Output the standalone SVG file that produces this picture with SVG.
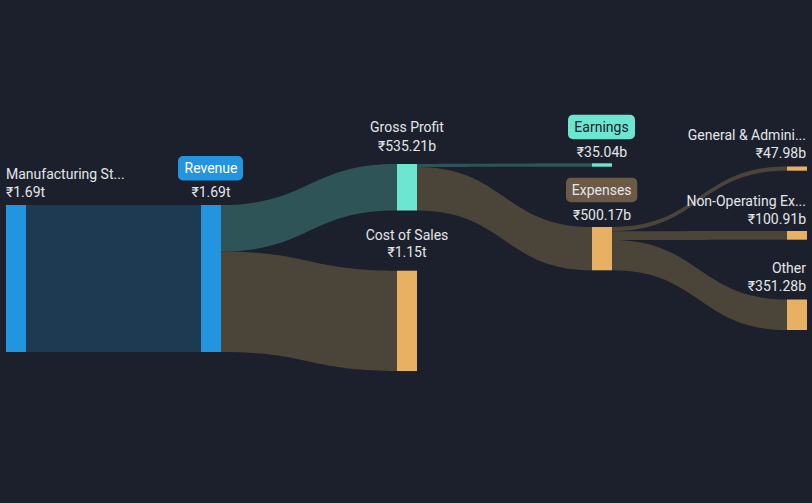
<svg xmlns="http://www.w3.org/2000/svg" width="812" height="503" viewBox="0 0 812 503">
<style>
.t{font-family:Roboto,"Liberation Sans",sans-serif;font-size:14px;fill:#e4e6ea}
.m{text-anchor:middle}
.e{text-anchor:end}
.blue{fill:#2394df}
.teal{fill:#6de6d1}
.gold{fill:#e8b062}
.lb{fill:#1e3a52}
.lt{fill:#2e5457}
.lr{fill:#4a4439}
</style>
<rect width="812" height="503" fill="#1b202c"/>
<g id="connectors">
<path class="lb" d="M26,205 L201,205 L201,352 L26,352 Z"/>
<path class="lt" d="M221,205 C309,205 309,164 397,164 L397,210.5 C309,210.5 309,251.5 221,251.5 Z"/>
<path class="lr" d="M221,251.5 C309,251.5 309,270.7 397,270.7 L397,371 C309,371 309,352 221,352 Z"/>
<path class="lt" d="M417,164 C504.5,164 504.5,163.3 592,163.3 L592,166.7 C504.5,166.7 504.5,167 417,167 Z"/>
<path class="lr" d="M417,167 C504.5,167 504.5,227 592,227 L592,270.3 C504.5,270.3 504.5,210.5 417,210.5 Z"/>
<path class="lr" d="M612,227 C699.5,227 699.5,166.5 787,166.5 L787,170.7 C699.5,170.7 699.5,231.2 612,231.2 Z"/>
<path class="lr" d="M612,231.2 C699.5,231.2 699.5,231 787,231 L787,239.7 C699.5,239.7 699.5,240 612,240 Z"/>
<path class="lr" d="M612,240 C699.5,240 699.5,299.5 787,299.5 L787,330 C699.5,330 699.5,270.3 612,270.3 Z"/>
</g>
<g id="manufacturing">
<rect class="blue" x="6" y="205" width="20" height="147"/>
<text class="t" x="6" y="179">Manufacturing St...</text>
<text class="t" x="6" y="197">₹1.69t</text>
</g>
<g id="revenue">
<rect class="blue" x="201" y="205" width="20" height="147"/>
<rect class="blue" x="178" y="156" width="65" height="24.5" rx="5"/>
<text class="t m" x="211" y="172.5" style="fill:#ffffff">Revenue</text>
<text class="t m" x="211" y="197">₹1.69t</text>
</g>
<g id="gross-profit">
<rect class="teal" x="397" y="164" width="20" height="46.5"/>
<text class="t m" x="407" y="132">Gross Profit</text>
<text class="t m" x="407" y="151">₹535.21b</text>
</g>
<g id="cost-of-sales">
<rect class="gold" x="397" y="270.7" width="20" height="100.3"/>
<text class="t m" x="407" y="239.5">Cost of Sales</text>
<text class="t m" x="407" y="257">₹1.15t</text>
</g>
<g id="earnings">
<rect class="teal" x="592" y="163.3" width="20" height="3.4"/>
<rect class="teal" x="568" y="114.7" width="67" height="24.6" rx="5"/>
<text class="t m" x="601.5" y="132" style="fill:#1b202c">Earnings</text>
<text class="t m" x="602" y="157">₹35.04b</text>
</g>
<g id="expenses">
<rect class="gold" x="592" y="227" width="20" height="43.3"/>
<rect x="566" y="177.7" width="71.3" height="24.6" rx="5" fill="#6b5a45"/>
<text class="t m" x="601.7" y="195">Expenses</text>
<text class="t m" x="602" y="220">₹500.17b</text>
</g>
<g id="general-admin">
<rect class="gold" x="787" y="166.5" width="20" height="4.2"/>
<text class="t e" x="806" y="140">General &amp; Admini...</text>
<text class="t e" x="806" y="158">₹47.98b</text>
</g>
<g id="non-operating">
<rect class="gold" x="787" y="231" width="20" height="8.7"/>
<text class="t e" x="806" y="205.5">Non-Operating Ex...</text>
<text class="t e" x="806" y="224">₹100.91b</text>
</g>
<g id="other">
<rect class="gold" x="787" y="299.5" width="20" height="30.5"/>
<text class="t e" x="806" y="273">Other</text>
<text class="t e" x="806" y="291">₹351.28b</text>
</g>
</svg>
